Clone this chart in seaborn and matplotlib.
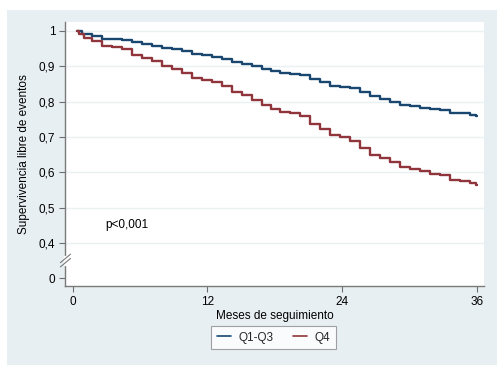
import numpy as np
import pandas as pd
import matplotlib
matplotlib.use("Agg")
import matplotlib.pyplot as plt
import seaborn as sns
from matplotlib.patches import Rectangle
from matplotlib.lines import Line2D

# ---- data (months, survival) ----
t_q13 = [0.36, 1.25, 2.14, 3.03, 3.92, 4.82, 5.71, 6.60, 7.49, 8.38, 9.27, 10.16,
         11.05, 11.94, 12.84, 13.73, 14.62, 15.51, 16.40, 17.30, 18.05, 18.94, 19.83,
         20.72, 21.62, 22.51, 23.40, 24.29, 25.18, 26.07, 26.96, 27.85, 28.75, 29.64,
         30.53, 31.42, 32.31, 33.20, 34.10, 34.99, 35.88, 36.03]
s_q13 = [1.000, 0.991, 0.985, 0.978, 0.976, 0.973, 0.967, 0.963, 0.957, 0.952, 0.948, 0.942,
         0.934, 0.931, 0.926, 0.920, 0.912, 0.907, 0.901, 0.893, 0.887, 0.881, 0.877,
         0.874, 0.863, 0.854, 0.845, 0.841, 0.837, 0.827, 0.815, 0.808, 0.799, 0.791,
         0.787, 0.782, 0.779, 0.776, 0.768, 0.767, 0.763, 0.759]
t_q4 = [0.36, 0.80, 1.25, 2.14, 3.03, 3.92, 4.82, 5.71, 6.60, 7.49, 8.38, 9.27, 10.16,
        11.05, 11.94, 12.84, 13.73, 14.62, 15.51, 16.40, 17.30, 18.05, 18.94, 19.83,
        20.72, 21.62, 22.51, 23.40, 24.29, 25.18, 26.07, 26.96, 27.85, 28.75, 29.64,
        30.53, 31.42, 32.31, 33.20, 34.10, 34.99, 35.88, 36.03]
s_q4 = [1.000, 0.991, 0.981, 0.972, 0.957, 0.954, 0.948, 0.933, 0.923, 0.914, 0.901, 0.891, 0.882,
        0.867, 0.862, 0.854, 0.844, 0.827, 0.818, 0.803, 0.791, 0.778, 0.770, 0.767,
        0.758, 0.737, 0.723, 0.704, 0.699, 0.687, 0.669, 0.650, 0.640, 0.628, 0.616,
        0.608, 0.602, 0.595, 0.591, 0.578, 0.574, 0.570, 0.564]
groups = ["Q1-Q3", "Q4"]
x_ticks = [0, 12, 24, 36]
y_ticks = [0.4, 0.5, 0.6, 0.7, 0.8, 0.9, 1.0]
y_tick_labels = ["0,4", "0,5", "0,6", "0,7", "0,8", "0,9", "1"]
zero_label = "0"
p_text = "p<0,001"

df = pd.concat([
    pd.DataFrame({"t": t_q13, "s": s_q13, "g": groups[0]}),
    pd.DataFrame({"t": t_q4, "s": s_q4, "g": groups[1]}),
])

sns.set_theme(style="white")
plt.rcParams["font.family"] = ["Liberation Sans", "DejaVu Sans"]

W, H = 497, 365
fig = plt.figure(figsize=(W / 100, H / 100), dpi=100, facecolor="white")
bg = "#e8eff2"
fig.patches.append(Rectangle((7 / W, 0), 1 - 7 / W, 1 - 10 / H, transform=fig.transFigure,
                             facecolor=bg, edgecolor="none", zorder=-10))

left, right, top, bottom = 65, 484.3, 22, 286
ax = fig.add_axes([left / W, 1 - bottom / H, (right - left) / W, (bottom - top) / H])
ax.set_zorder(2)
ax.set_facecolor("white")

colors = {"Q1-Q3": "#1a476f", "Q4": "#90353b"}
sns.lineplot(data=df, x="t", y="s", hue="g", palette=colors, estimator=None, sort=False,
             drawstyle="steps-mid", linewidth=1.7, ax=ax, legend=False, zorder=3)

ax.set_xlim(-0.69, 36.68)
ax.set_ylim(0.278, 1.025)

# grid
for yv in y_ticks:
    ax.axhline(yv, color="#eaf1f3", linewidth=1.0, zorder=1)

ax.set_xticks(x_ticks)
ax.set_xticklabels([str(v) for v in x_ticks])
ax.set_yticks([0.3] + y_ticks)
ax.set_yticklabels([zero_label] + y_tick_labels)
ax.tick_params(axis="both", which="major", direction="out", length=4, width=0.8,
               color="#6e6e6e", labelsize=8.5, labelcolor="black", pad=3,
               left=True, bottom=True)

for side in ["top", "right"]:
    ax.spines[side].set_visible(False)
for side in ["left", "bottom"]:
    ax.spines[side].set_color("#7a7a7a")
    ax.spines[side].set_linewidth(1.0)

ax.set_xlabel("Meses de seguimiento", fontsize=8.5, labelpad=2, color="black")
ax.set_ylabel("Supervivencia libre de eventos", fontsize=8.5, labelpad=6, color="black")

ax.text(2.9, 0.45, p_text, fontsize=8.5, va="center", ha="left", color="black")

# axis break marker
ybrk = 0.35
ax.plot([-0.69, -0.69], [ybrk - 0.01, ybrk + 0.01], color="white", linewidth=2.5,
        clip_on=False, zorder=5)
for dy in (-0.006, 0.006):
    ax.plot([-1.1, -0.2], [ybrk + dy - 0.012, ybrk + dy + 0.012], color="#7a7a7a",
            linewidth=0.8, clip_on=False, zorder=6)

handles = [Line2D([0], [0], color=colors[g], linewidth=1.2) for g in groups]
leg = fig.legend(handles, groups, loc="center", bbox_to_anchor=(273.5 / W, 1 - 337.5 / H),
                 ncol=2, frameon=True, fontsize=8.5, handlelength=1.2, handletextpad=0.6,
                 columnspacing=1.7, borderpad=0.5, fancybox=False)
leg.get_frame().set_edgecolor("#8a8a8a")
leg.get_frame().set_linewidth(0.8)
leg.get_frame().set_facecolor("white")

fig.savefig("out.png", dpi=100, facecolor="white")
